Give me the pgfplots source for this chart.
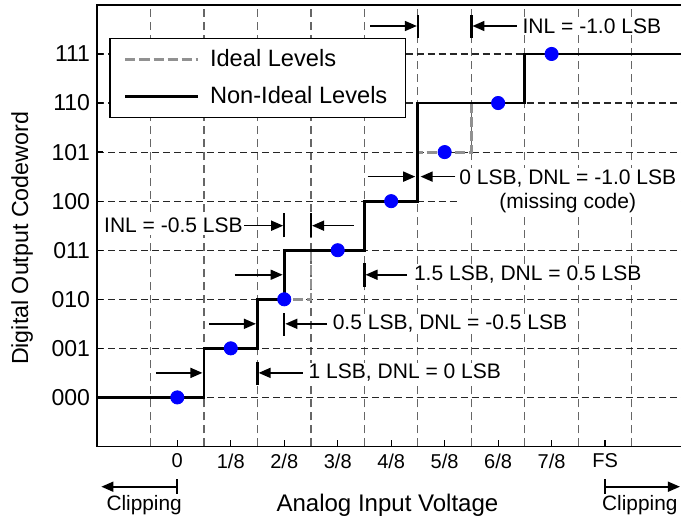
\documentclass[border=0pt]{standalone}
\usepackage{fontspec}
\setmainfont{Liberation Sans}
\usepackage{pgfplots}
\pgfplotsset{compat=1.18}
\usetikzlibrary{arrows.meta}
\definecolor{idealgray}{RGB}{145,145,145}
\definecolor{dotblue}{RGB}{0,0,255}

\begin{document}
\begin{tikzpicture}[
  arr/.style={line width=0.8pt,-{Triangle[length=6pt,width=5pt]}},
  bar/.style={line width=1.1pt},
  ann/.style={inner sep=0.8pt, fill=white, font=\fontsize{10.5pt}{12.6pt}\selectfont},
]
\begin{axis}[
  x=26.7pt, y=24.5pt,
  xmin=-1.5, xmax=9.7, ymin=-1, ymax=8,
  clip=false,
  axis line style={line width=0.8pt},
  xtick={0,1,2,3,4,5,6,7,8},
  xticklabels={0,1/8,2/8,3/8,4/8,5/8,6/8,7/8,FS},
  minor xtick={-0.5,0.5,1.5,2.5,3.5,4.5,5.5,6.5,7.5,8.5},
  ytick={0,1,2,3,4,5,6,7},
  yticklabels={000,001,010,011,100,101,110,111},
  xtick pos=bottom, ytick pos=left,
  tick align=inside,
  major tick length=3pt, minor tick length=0pt,
  tick style={line width=0.6pt, black},
  xminorgrids=true, ymajorgrids=true, xmajorgrids=false,
  minor grid style={dash pattern=on 4pt off 2.5pt, line width=0.55pt, black!60},
  major grid style={dash pattern=on 3.5pt off 2pt, line width=0.55pt, black!85},
  xticklabel style={font=\fontsize{10pt}{12pt}\selectfont},
  yticklabel style={font=\fontsize{11.5pt}{13.8pt}\selectfont},
  legend style={at={(axis cs:-1.27,7.33)}, anchor=north west, draw=black,
    line width=0.6pt, font=\fontsize{11.8pt}{14pt}\selectfont,
    inner xsep=7pt, inner ysep=1.25pt, row sep=0pt,
    nodes={minimum height=18.5pt},
    /tikz/every odd column/.append style={column sep=3.5pt}},
  legend cell align=left,
  legend image code/.code={\draw[#1] (0pt,0pt) -- (36pt,0pt);},
]
% ideal levels
\addplot[const plot, idealgray, line width=1.45pt, dash pattern=on 5pt off 2pt]
  coordinates {(-1.5,0)(0.5,1)(1.5,2)(2.5,3)(3.5,4)(4.5,5)(5.5,6)(6.5,7)(9.7,7)};
\addlegendentry{Ideal Levels}
% non-ideal levels
\addplot[const plot, black, line width=1.45pt]
  coordinates {(-1.5,0)(0.5,1)(1.5,2)(2,3)(3.5,4)(4.5,6)(6.5,7)(9.7,7)};
\addlegendentry{Non-Ideal Levels\hspace{3pt}}
% code centres
\addplot[only marks, mark=*, mark size=3.3pt, color=dotblue,
  mark options={draw=dotblue, fill=dotblue}, forget plot]
  coordinates {(0,0)(1,1)(2,2)(3,3)(4,4)(5,5)(6,6)(7,7)};

% annotation 1: 1 LSB
\draw[arr] (axis cs:-0.4,0.5) -- (axis cs:0.47,0.5);
\draw[bar] (axis cs:1.5,0.26) -- (axis cs:1.5,0.72);
\draw[arr] (axis cs:2.35,0.5) -- (axis cs:1.52,0.5);
\node[ann, anchor=west] at (axis cs:2.42,0.5) {1 LSB, DNL = 0 LSB};
% annotation 2: 0.5 LSB
\draw[arr] (axis cs:0.6,1.5) -- (axis cs:1.47,1.5);
\draw[bar] (axis cs:2,1.26) -- (axis cs:2,1.72);
\draw[arr] (axis cs:2.8,1.5) -- (axis cs:2.02,1.5);
\node[ann, anchor=west] at (axis cs:2.87,1.5) {0.5 LSB, DNL = -0.5 LSB};
% annotation 3: 1.5 LSB
\draw[arr] (axis cs:1.07,2.5) -- (axis cs:1.97,2.5);
\draw[bar] (axis cs:3.5,2.26) -- (axis cs:3.5,2.74);
\draw[arr] (axis cs:4.3,2.5) -- (axis cs:3.52,2.5);
\node[ann, anchor=west] at (axis cs:4.39,2.5) {1.5 LSB, DNL = 0.5 LSB};
% annotation 4: INL -0.5
\node[ann, anchor=east] at (axis cs:1.26,3.5) {INL = -0.5 LSB};
\draw[arr] (axis cs:1.25,3.5) -- (axis cs:1.98,3.5);
\draw[bar] (axis cs:2,3.26) -- (axis cs:2,3.76);
\draw[bar] (axis cs:2.5,3.26) -- (axis cs:2.5,3.76);
\draw[arr] (axis cs:3.3,3.5) -- (axis cs:2.52,3.5);
% annotation 5: missing code
\draw[arr] (axis cs:3.56,4.5) -- (axis cs:4.45,4.5);
\draw[arr] (axis cs:5.2,4.5) -- (axis cs:4.55,4.5);
\node[ann, anchor=north west, align=center, inner sep=1pt,
  font=\fontsize{10.5pt}{12pt}\selectfont] at (axis cs:5.23,4.69)
  {0 LSB, DNL = -1.0 LSB\\(missing code)};
% annotation 6: INL -1.0
\draw[arr] (axis cs:3.61,7.57) -- (axis cs:4.48,7.57);
\draw[bar] (axis cs:4.5,7.33) -- (axis cs:4.5,7.8);
\draw[bar] (axis cs:5.5,7.33) -- (axis cs:5.5,7.8);
\draw[arr] (axis cs:6.35,7.57) -- (axis cs:5.52,7.57);
\node[ann, anchor=west] at (axis cs:6.42,7.57) {INL = -1.0 LSB};

% axis labels and clipping markers
\node[rotate=90, font=\fontsize{11.6pt}{13.9pt}\selectfont] at (axis cs:-2.9,3.24) {Digital Output Codeword};
\node[font=\fontsize{12pt}{14.4pt}\selectfont] at (axis cs:3.93,-2.2) {Analog Input Voltage};
\draw[arr] (axis cs:0,-1.82) -- (axis cs:-1.42,-1.82);
\draw[bar] (axis cs:0,-1.67) -- (axis cs:0,-1.97);
\draw[arr] (axis cs:8,-1.82) -- (axis cs:9.4,-1.82);
\draw[bar] (axis cs:8,-1.67) -- (axis cs:8,-1.97);
\node[font=\fontsize{10.4pt}{12.5pt}\selectfont] at (axis cs:-0.62,-2.2) {Clipping};
\node[font=\fontsize{10.4pt}{12.5pt}\selectfont] at (axis cs:8.65,-2.2) {Clipping};

\coordinate (bbsw) at (axis cs:-3.316,-2.449);
\coordinate (bbne) at (axis cs:9.42,8.10);
\end{axis}
\pgfresetboundingbox
\path[use as bounding box] (bbsw) rectangle (bbne);
\end{tikzpicture}
\end{document}
